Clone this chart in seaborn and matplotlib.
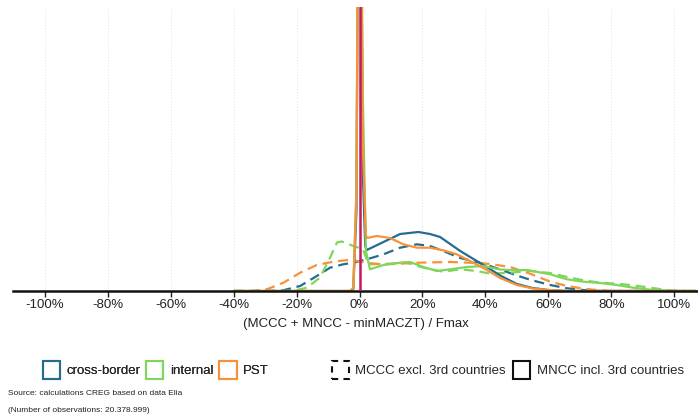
import matplotlib
matplotlib.use("Agg")
import matplotlib.pyplot as plt
import seaborn as sns
import pandas as pd
from matplotlib.patches import Patch
from matplotlib.ticker import FixedLocator, FuncFormatter

# Relative margin (MCCC + MNCC - minMACZT) / Fmax in percent, density in arbitrary units
cb_mncc_x = [-40, -3, -2, -1, -0.3, 0.3, 1, 1.8, 2.3, 7.6, 12.9, 18.7, 22.4, 25.6, 28.8,
             32, 36.2, 39.4, 44.7, 50, 55, 60, 66, 107]
cb_mncc_y = [0, 0, 2, 80, 500, 500, 120, 45, 41, 49, 57, 59, 57, 54, 47,
             40, 32, 26, 15.5, 7, 3, 1, 0, 0]

int_mncc_x = [-40, -3, -2, -1, -0.3, 0.3, 1, 2, 3.3, 7.6, 12.9, 16, 20.3, 24.5, 28.8,
              34.1, 39.4, 44.7, 50, 53.3, 60.6, 66, 71.2, 76.5, 81.8, 87, 92.4, 99.7, 107]
int_mncc_y = [0, 0, 3, 100, 500, 500, 200, 40, 21.7, 26, 28.3, 29, 24, 20, 21.7,
              24, 25, 21.5, 20.7, 21, 16.7, 11.7, 9.3, 8, 6, 3.3, 1.3, 0, 0]

pst_mncc_x = [-40, -3, -2, -1, -0.3, 0.3, 1, 2, 2.3, 5.5, 9.7, 13.9, 18.2, 22.4, 26.6,
              30.9, 35.1, 39.4, 44.7, 50, 55, 60, 66, 107]
pst_mncc_y = [0, 0, 3, 100, 500, 500, 150, 56, 53, 55, 53, 46.7, 43.3, 43.3, 40.7,
              36.7, 30, 23, 13, 6, 2.5, 1, 0, 0]

cb_mccc_x = [-40, -29.5, -24.3, -18.9, -13.6, -9.4, -5.2, -2, 2.3, 7.6, 12.9, 18.2, 22.4,
             26.6, 32, 37.3, 41.5, 44.7, 50, 54.5, 60.6, 66, 71, 76.5, 107]
cb_mccc_y = [0, 0, 0.7, 5, 15, 23.3, 26.7, 28.3, 31.7, 36.7, 43.3, 46.7, 45,
             40, 33, 29, 25, 21.5, 15.5, 11, 6, 2.7, 1, 0, 0]

int_mccc_x = [-40, -21.1, -16.8, -12.6, -9.4, -7.2, -5.7, -2, 1, 2.5, 3.5, 9.7, 15, 20.3,
              26.6, 32, 37.3, 41.5, 47.9, 54.2, 60.6, 66, 71.2, 76.5, 81.8, 87, 92.4, 97.7,
              102, 107]
int_mccc_y = [0, 0, 3.3, 13.3, 33.3, 48.5, 49.5, 45, 42, 30, 26.7, 27.3, 28.3, 23.3,
              19.3, 21.7, 20, 17.3, 18.3, 20, 18, 14, 10.7, 8.3, 7.3, 5.7, 3.3, 1,
              0, 0]

pst_mccc_x = [-40, -34.8, -29.5, -24.2, -18.9, -13.6, -8.3, -3, -2, 2.3, 7.6, 12.9, 18.2,
              28.8, 37.3, 41.5, 47.9, 54.5, 60.6, 66, 71.2, 76.5, 82, 107]
pst_mccc_y = [0, 0, 1.7, 8.3, 18.3, 26, 29.3, 31.3, 30.7, 28, 26.7, 27.3, 28.3,
              29, 28, 27, 24, 17, 9.3, 5, 2.3, 0.7, 0, 0]

tick_values = [-100, -80, -60, -40, -20, 0, 20, 40, 60, 80, 100]

blue = "#256d8e"
green = "#7fd65a"
orange = "#f7923a"
magenta = "#c8175d"

series = [
    ("cross-border", "MCCC", cb_mccc_x, cb_mccc_y, blue),
    ("internal", "MCCC", int_mccc_x, int_mccc_y, green),
    ("PST", "MCCC", pst_mccc_x, pst_mccc_y, orange),
    ("cross-border", "MNCC", cb_mncc_x, cb_mncc_y, blue),
    ("internal", "MNCC", int_mncc_x, int_mncc_y, green),
    ("PST", "MNCC", pst_mncc_x, pst_mncc_y, orange),
]

sns.set_theme(style="white")
plt.rcParams["font.family"] = ["Liberation Sans", "DejaVu Sans"]

fig = plt.figure(figsize=(6.98, 4.19), dpi=100)
ax = fig.add_axes([13 / 698, 128 / 419, 685 / 698, 284 / 419])

for name, kind, xs, ys, col in series:
    df = pd.DataFrame({"x": xs, "y": ys})
    ls = (0, (4.5, 2.6)) if kind == "MCCC" else "-"
    sns.lineplot(data=df, x="x", y="y", ax=ax, color=col, linewidth=1.6,
                 linestyle=ls, sort=False, estimator=None)

ax.axvline(0, color=magenta, linewidth=1.8, zorder=5)

ax.set_xlim(-110.2, 107.6)
ax.set_ylim(0, 284)

for t in tick_values:
    ax.axvline(t, color="#e0e0e0", linewidth=0.7, linestyle=(0, (1, 2)), zorder=0)

ax.xaxis.set_major_locator(FixedLocator(tick_values))
ax.xaxis.set_major_formatter(FuncFormatter(lambda v, p: f"{v:.0f}%"))
ax.tick_params(axis="x", bottom=True, length=4, width=1, color="#222222",
               labelsize=9.5, pad=2, labelcolor="#222222")
ax.set_yticks([])
ax.set_ylabel("")
ax.set_xlabel("(MCCC + MNCC - minMACZT) / Fmax", fontsize=9.5, color="#222222", labelpad=5)

for side in ["top", "right", "left"]:
    ax.spines[side].set_visible(False)
ax.spines["bottom"].set_color("#111111")
ax.spines["bottom"].set_linewidth(1.8)

colour_handles = [
    Patch(facecolor="none", edgecolor=blue, linewidth=1.5, label="cross-border"),
    Patch(facecolor="none", edgecolor=green, linewidth=1.5, label="internal"),
    Patch(facecolor="none", edgecolor=orange, linewidth=1.5, label="PST"),
]
style_handles = [
    Patch(facecolor="none", edgecolor="#111111", linewidth=1.5, linestyle=(0, (3, 2.5)),
          label="MCCC excl. 3rd countries"),
    Patch(facecolor="none", edgecolor="#111111", linewidth=1.5, label="MNCC incl. 3rd countries"),
]
leg1 = fig.legend(handles=colour_handles, loc="center left", bbox_to_anchor=(36 / 698, 1 - 370 / 419),
                  ncol=3, frameon=False, fontsize=9.5, handlelength=1.3, handleheight=1.8,
                  handletextpad=0.5, columnspacing=0.45, borderpad=0)
fig.add_artist(leg1)
fig.legend(handles=style_handles, loc="center left", bbox_to_anchor=(325 / 698, 1 - 370 / 419),
           ncol=2, frameon=False, fontsize=9.5, handlelength=1.3, handleheight=1.8,
           handletextpad=0.5, columnspacing=0.55, borderpad=0)

fig.text(8 / 698, 1 - 393 / 419, "Source: calculations CREG based on data Elia",
         fontsize=6, va="center", ha="left", color="#222222")
fig.text(8 / 698, 1 - 410 / 419, "(Number of observations: 20.378.999)",
         fontsize=6, va="center", ha="left", color="#222222")

fig.savefig("out.png", dpi=100)
